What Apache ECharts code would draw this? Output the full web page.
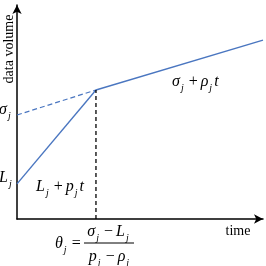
<!DOCTYPE html>
<html>
<head>
<meta charset="utf-8">
<script src="https://cdn.jsdelivr.net/npm/echarts@6/dist/echarts.min.js"></script>
<style>
  html, body { margin: 0; padding: 0; background: #fff; }
  #chart { width: 266px; height: 266px; }
</style>
</head>
<body>
<div id="chart"></div>
<script>
// 坐标：x 为时间，y 为数据量（0–10 的示意刻度）
const fastLine = [[0, 1.64], [3.21, 6.03]];   // L_j + p_j t
const slowDashed = [[0, 4.86], [3.21, 6.03]]; // sigma_j + rho_j t 延长虚线
const slowLine = [[3.21, 6.03], [10, 8.36]];  // sigma_j + rho_j t
const thetaLine = [[3.21, 0], [3.21, 6.03]];  // theta_j

const chart = echarts.init(document.getElementById('chart'));

const serif = 'Liberation Serif';
const blue = '#4a76c0';
const rich = {
  i: { fontFamily: serif, fontStyle: 'italic', fontSize: 16, color: '#000', height: 22 },
  n: { fontFamily: serif, fontSize: 16, color: '#000', height: 22, padding: [0, 3, 0, 3] },
  s: { fontFamily: serif, fontStyle: 'italic', fontSize: 10, color: '#000', height: 22, padding: [12, 2, 0, 1] }
};

function label(text, x, y, align) {
  return {
    type: 'text', x: x, y: y,
    style: { text: text, rich: rich, align: align || 'left', verticalAlign: 'middle' }
  };
}

const axisCommon = {
  type: 'value', min: 0, max: 10,
  axisLine: { show: true, symbol: ['none', 'arrow'], symbolSize: [7, 9], lineStyle: { color: '#000', width: 1.5 } },
  axisTick: { show: false },
  axisLabel: { show: false },
  splitLine: { show: false }
};

const option = {
  animation: false,
  grid: { left: 17, right: 3, top: 5, bottom: 47 },
  xAxis: axisCommon,
  yAxis: axisCommon,
  series: [
    { type: 'line', data: fastLine, symbol: 'none', lineStyle: { color: blue, width: 1.4 } },
    { type: 'line', data: slowDashed, symbol: 'none', lineStyle: { color: blue, width: 1.2, type: [5, 3] } },
    { type: 'line', data: slowLine, symbol: 'none', lineStyle: { color: blue, width: 1.4 } },
    { type: 'line', data: thetaLine, symbol: 'none', lineStyle: { color: '#000', width: 1.3, type: [4, 3] } }
  ],
  graphic: [
    {
      type: 'text', x: 9, y: 49, rotation: Math.PI / 2,
      style: { text: 'data volume', font: '14px "Liberation Serif"', fill: '#000', align: 'center', verticalAlign: 'middle' }
    },
    {
      type: 'text', x: 238, y: 231,
      style: { text: 'time', font: '14px "Liberation Serif"', fill: '#000', align: 'center', verticalAlign: 'middle' }
    },
    label('{i|σ}{s|j}', -1, 110),
    label('{i|L}{s|j}', -1, 178),
    label('{i|σ}{s|j}{n|+}{i|ρ}{s|j}{i|t}', 172, 82),
    label('{i|L}{s|j}{n|+}{i|p}{s|j}{i|t}', 36, 187),
    label('{i|θ}{s|j}{n|=}', 55, 244),
    label('{i|σ}{s|j}{n|−}{i|L}{s|j}', 109, 232, 'center'),
    label('{i|p}{s|j}{n|−}{i|ρ}{s|j}', 110, 257, 'center'),
    {
      type: 'line', shape: { x1: 84, y1: 243, x2: 134, y2: 243 },
      style: { stroke: '#000', lineWidth: 1 }
    }
  ]
};

chart.setOption(option);
</script>
</body>
</html>
